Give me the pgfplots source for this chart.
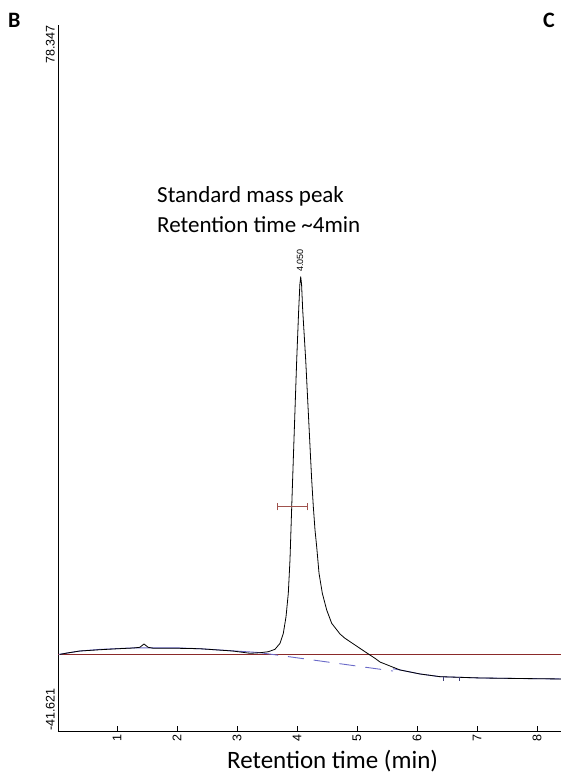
\documentclass[border=0pt]{standalone}
\usepackage{pgfplots}
\pgfplotsset{compat=1.18}
\usepackage{fontspec}
\setmainfont{Liberation Sans}
\newfontfamily\calibri{Carlito}
\definecolor{baseRed}{HTML}{8B2A2A}
\definecolor{baseBlue}{HTML}{6A6AC8}
\definecolor{errRed}{HTML}{A0524D}
\begin{document}
\begin{tikzpicture}
\begin{axis}[
  at={(0pt,0pt)}, anchor=south west,
  scale only axis, width=503pt, height=706pt,
  xmin=0.0167, xmax=8.4, ymin=-41.621, ymax=78.347,
  axis x line*=bottom, axis y line*=left,
  axis line style={-, line width=0.8pt},
  xtick={1,2,3,4,5,6,7,8},
  major tick length=5pt,
  xtick style={black, line width=0.6pt},
  xticklabel style={rotate=90, anchor=east, font=\fontsize{12.5}{13}\selectfont},
  ytick={78.347}, yticklabels={78.347},
  ytick style={draw=none},
  yticklabel style={rotate=90, anchor=south east, inner xsep=0pt, inner ysep=3pt, font=\fontsize{12.5}{13}\selectfont},
  extra y ticks={-41.621}, extra y tick labels={-41.621},
  extra y tick style={yticklabel style={anchor=south west}, ytick style={draw=none}},
  /pgf/number format/assume math mode=true,
  clip=false,
]
% baseline (red)
\addplot[baseRed, line width=0.8pt, mark=none] coordinates {(0.0167,-28.6) (8.4,-28.6)};
% blue baseline estimate, left solid part
\addplot[baseBlue, line width=0.9pt, mark=none] coordinates {
(0.033,-28.6) (0.17,-28.37) (0.38,-28.03) (0.72,-27.75) (1.27,-27.5) (1.6,-27.5)
(2.02,-27.5) (2.38,-27.64) (2.93,-28.0) (3.38,-28.3) (3.42,-28.37)};
% blue dashed
\addplot[baseBlue, line width=0.9pt, mark=none, dash pattern=on 16pt off 10pt] coordinates {
(3.42,-28.37) (5.6,-31.43)};
% blue right solid part
\addplot[baseBlue, line width=0.9pt, mark=none] coordinates {
(5.6,-31.05) (5.72,-31.25) (6.05,-31.93) (6.38,-32.39) (7.05,-32.61) (7.7,-32.7) (8.4,-32.78)};
% signal (black)
\addplot[black, line width=0.8pt, mark=none, line join=round] coordinates {
(0.05,-28.6) (0.17,-28.37) (0.38,-28.03) (0.72,-27.81) (1.0,-27.65) (1.27,-27.52) (1.38,-27.4)
(1.45,-26.84) (1.52,-27.4) (1.6,-27.55) (2.02,-27.57) (2.38,-27.64) (2.93,-28.03)
(3.217,-28.42) (3.383,-28.32) (3.522,-28.15) (3.633,-27.74) (3.717,-26.72) (3.772,-25.02)
(3.817,-22.2) (3.855,-18.22) (3.883,-12.56) (3.912,-3.51) (3.938,4.43) (3.995,21.42)
(4.028,29.92) (4.048,34.3) (4.062,35.58) (4.076,34.3) (4.095,29.92) (4.145,21.42)
(4.228,4.43) (4.245,1.03) (4.272,-3.51) (4.30,-7.47) (4.328,-10.3) (4.367,-14.82)
(4.422,-18.22) (4.495,-21.06) (4.578,-23.32) (4.717,-25.14) (4.8,-25.87) (4.967,-27.01)
(5.133,-28.15) (5.3,-29.27) (5.383,-29.9) (5.717,-31.25) (6.05,-31.93) (6.383,-32.39)
(7.05,-32.61) (7.7,-32.7) (8.4,-32.78)};
% peak width bar
\addplot[errRed, line width=0.8pt, mark=none] coordinates {(3.667,-3.51) (4.175,-3.51)};
\addplot[errRed, line width=0.8pt, mark=none] coordinates {(3.667,-4.14) (3.667,-2.88)};
\addplot[errRed, line width=0.8pt, mark=none] coordinates {(4.175,-4.14) (4.175,-2.88)};
% integration markers
\addplot[baseBlue!60!black, line width=0.6pt, mark=none] coordinates {(6.433,-32.45) (6.433,-33.13)};
\addplot[baseBlue!60!black, line width=0.6pt, mark=none] coordinates {(6.70,-32.5) (6.70,-33.18)};
\node[rotate=90, anchor=west, inner sep=0pt, font=\fontsize{9}{10}\selectfont] at (axis cs:4.05,36.4) {4.050};
\end{axis}
\node[anchor=base west, inner sep=0pt, font=\calibri\bfseries\fontsize{22}{26}\selectfont] at (-50pt,703pt) {B};
\node[anchor=base west, inner sep=0pt, font=\calibri\bfseries\fontsize{22}{26}\selectfont] at (485pt,703pt) {C};
\node[anchor=base west, inner sep=0pt, font=\calibri\fontsize{23}{28}\selectfont] at (99pt,528pt) {Standard mass peak};
\node[anchor=base west, inner sep=0pt, font=\calibri\fontsize{23}{28}\selectfont] at (99pt,498pt) {Retention time \textasciitilde 4min};
\node[anchor=base west, inner sep=0pt, font=\calibri\fontsize{25}{29}\selectfont] at (169pt,-37pt) {Retention time (min)};
\pgfresetboundingbox
\useasboundingbox (-58pt,-47pt) rectangle (503pt,731pt);
\end{tikzpicture}
\end{document}
